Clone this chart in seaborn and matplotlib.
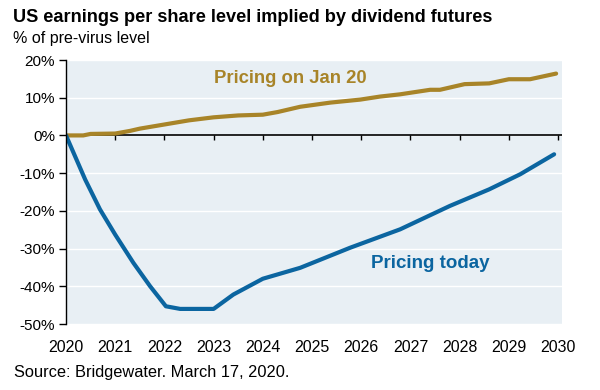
import numpy as np
import pandas as pd
import matplotlib
matplotlib.use("Agg")
import matplotlib.pyplot as plt
import seaborn as sns

# pricing on Jan 20 (gold), % of pre-virus level
jan_years = [2020.0, 2020.35, 2020.5, 2021.0, 2021.3, 2021.5, 2022.0, 2022.5, 2023.0,
             2023.5, 2024.0, 2024.3, 2024.76, 2025.37, 2025.98, 2026.38, 2026.79,
             2027.4, 2027.6, 2028.1, 2028.6, 2029.0, 2029.43, 2029.96]
jan_vals = [0.0, 0.0, 0.4, 0.5, 1.2, 1.8, 2.9, 4.0, 4.8,
            5.3, 5.5, 6.2, 7.6, 8.7, 9.5, 10.3, 10.9,
            12.1, 12.1, 13.6, 13.8, 14.9, 14.9, 16.4]

# pricing today (blue)
today_years = [2020.0, 2020.39, 2020.69, 2021.0, 2021.37, 2021.71, 2022.03, 2022.32,
               2023.0, 2023.4, 2024.0, 2024.76, 2025.77, 2026.79, 2027.8, 2028.6,
               2029.23, 2029.92]
today_vals = [0.0, -11.7, -19.6, -26.3, -33.8, -40.0, -45.3, -46.0,
              -46.0, -42.2, -38.0, -35.1, -29.8, -24.9, -18.7, -14.3,
              -10.3, -5.0]

year_ticks = list(range(2020, 2031))
pct_ticks = [20, 10, 0, -10, -20, -30, -40, -50]

GOLD = '#A88428'
BLUE = '#0B65A0'

sns.set_style('white')
plt.rcParams['font.family'] = ['Liberation Sans', 'DejaVu Sans']
plt.rcParams['text.color'] = 'black'
plt.rcParams['xtick.color'] = 'black'
plt.rcParams['ytick.color'] = 'black'

fig = plt.figure(figsize=(6, 3.9), dpi=100)
ax = fig.add_axes([66 / 600, 1 - 324 / 390, (562 - 66) / 600, (324 - 60) / 390])
ax.set_facecolor('#E8EFF4')

df_jan = pd.DataFrame({'year': jan_years, 'val': jan_vals})
df_today = pd.DataFrame({'year': today_years, 'val': today_vals})

sns.lineplot(data=df_jan, x='year', y='val', color=GOLD, lw=3, ax=ax)
sns.lineplot(data=df_today, x='year', y='val', color=BLUE, lw=3, ax=ax)

ax.set_xlim(2020, 2030.08)
ax.set_ylim(-50, 20)
ax.set_yticks(pct_ticks)
ax.set_yticklabels([f'{v}%' for v in pct_ticks], fontsize=11)
ax.set_xticks(year_ticks)
ax.set_xticklabels([str(y) for y in year_ticks], fontsize=11.5)
ax.set_xlabel('')
ax.set_ylabel('')

ax.grid(axis='y', color='white', lw=1)
ax.set_axisbelow(True)
for s in ['top', 'right', 'bottom']:
    ax.spines[s].set_visible(False)
ax.spines['left'].set_color('black')
ax.spines['left'].set_linewidth(1)
ax.tick_params(axis='y', left=True, length=5, width=1, color='black', pad=3)
ax.tick_params(axis='x', bottom=False, pad=8)

# zero line with downward ticks
ax.axhline(0, color='black', lw=1.2, zorder=1.5)
ax.vlines(year_ticks[1:], -1.3, 0, color='black', lw=1, zorder=1.5)

ax.text(2023.0, 15, 'Pricing on Jan 20', color=GOLD, fontsize=13.3,
        fontweight='bold', ha='left', va='center')
ax.text(2026.2, -34, 'Pricing today', color=BLUE, fontsize=13.5,
        fontweight='bold', ha='left', va='center')

fig.text(13 / 600, 1 - 17 / 390, 'US earnings per share level implied by dividend futures',
         fontsize=13.1, fontweight='bold', ha='left', va='center')
fig.text(13 / 600, 1 - 39 / 390, '% of pre-virus level', fontsize=11.5,
         ha='left', va='center')
fig.text(14 / 600, 1 - 373 / 390, 'Source: Bridgewater. March 17, 2020.', fontsize=11.8,
         ha='left', va='center')

fig.savefig('out.png', dpi=100)
